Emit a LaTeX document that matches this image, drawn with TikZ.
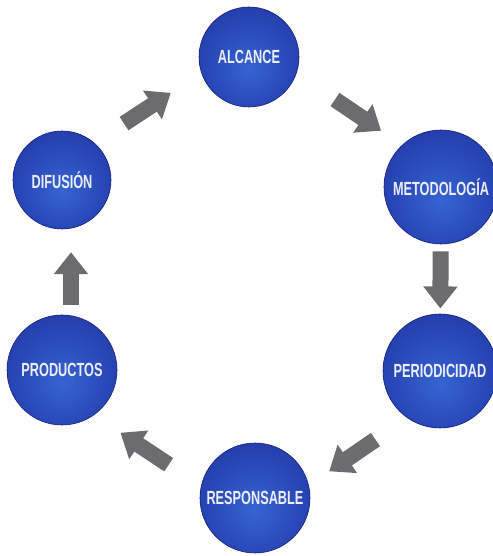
\documentclass[tikz,border=0pt]{standalone}
\usepackage{fontspec}
\usepackage{xcolor}
\usetikzlibrary{arrows.meta,calc}
\newfontfamily\condfont[FakeStretch=0.67]{Liberation Sans Bold}
\definecolor{bubblein}{RGB}{54,100,210}
\definecolor{bubblemid}{RGB}{40,70,182}
\definecolor{bubbleout}{RGB}{28,36,142}
\definecolor{bubblerim}{RGB}{26,30,120}
\definecolor{arrowgray}{RGB}{108,108,110}
\definecolor{labelwhite}{RGB}{236,236,250}
\pgfdeclareradialshading{bubble}{\pgfpoint{0bp}{-6bp}}{%
  color(0bp)=(bubblein); color(22bp)=(bubblemid); color(50bp)=(bubbleout); color(62bp)=(bubbleout)}

\begin{document}
\begin{tikzpicture}[x=1pt, y=1pt,
  stage/.style={circle, shading=bubble, draw=bubblerim, line width=0.6pt, inner sep=0pt,
    text=labelwhite, font=\condfont\fontsize{19pt}{21pt}\selectfont},
  cyclearrow/.style={draw=arrowgray, line width=16pt, -{Triangle[width=33pt, length=22pt]}}]
  \useasboundingbox (0,0) rectangle (492,556);
  \node[stage, minimum size=100pt] (alcance) at (249,499) {ALCANCE};
  \node[stage, minimum size=114pt] (metodologia) at (441,369) {METODOLOGÍA};
  \node[stage, minimum size=114pt] (periodicidad) at (440,185) {PERIODICIDAD};
  \node[stage, minimum size=110pt] (responsable) at (255,58) {RESPONSABLE};
  \node[stage, minimum size=110pt] (productos) at (62,186) {PRODUCTOS};
  \node[stage, minimum size=98pt] (difusion) at (62,376) {DIFUSIÓN};
  % flechas del ciclo
  \draw[cyclearrow] ($(difusion)!0.37!(alcance)!13pt!90:(alcance)$) -- ($(difusion)!0.62!(alcance)!13pt!90:(alcance)$);
  \draw[cyclearrow] ($(alcance)!0.41!(metodologia)!13pt!90:(metodologia)$) -- ($(alcance)!0.65!(metodologia)!13pt!90:(metodologia)$);
  \draw[cyclearrow] ($(metodologia)!0.35!(periodicidad)$) -- ($(metodologia)!0.66!(periodicidad)$);
  \draw[cyclearrow] ($(periodicidad)!0.41!(responsable)!20pt!90:(responsable)$) -- ($(periodicidad)!0.66!(responsable)!20pt!90:(responsable)$);
  \draw[cyclearrow] ($(responsable)!0.39!(productos)!20pt!90:(productos)$) -- ($(responsable)!0.64!(productos)!20pt!90:(productos)$);
  \draw[cyclearrow] ($(productos)!0.34!(difusion)!-9pt!90:(difusion)$) -- ($(productos)!0.62!(difusion)!-9pt!90:(difusion)$);
\end{tikzpicture}
\end{document}
